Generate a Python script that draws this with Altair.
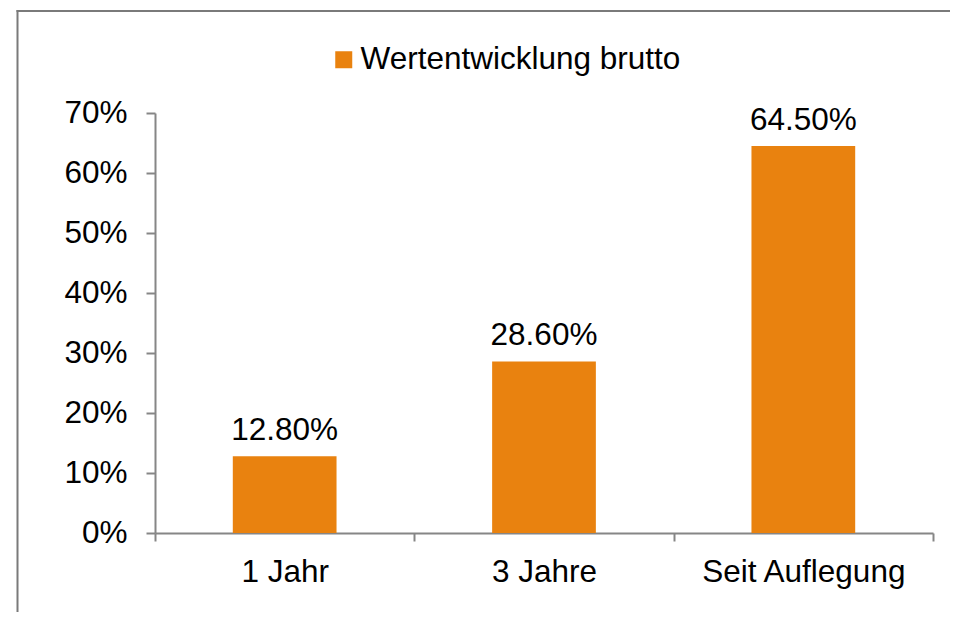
import altair as alt
import pandas as pd

categories = ["1 Jahr", "3 Jahre", "Seit Auflegung"]
values = [0.128, 0.286, 0.645]
series = ["Wertentwicklung brutto"] * 3

df = pd.DataFrame({"Zeitraum": categories, "Wert": values, "Serie": series})

FONT = "Liberation Sans"
FS = 31.5
ORANGE = "#E9820F"
AXIS_GRAY = "#868686"
FRAME_GRAY = "#7a7a7a"

W, H = 778, 420
PAD = {"left": 147, "top": 105, "right": 17, "bottom": 79}

base = alt.Chart(df)

x_enc = alt.X(
    "Zeitraum:N",
    sort=categories,
    scale=alt.Scale(paddingInner=0, paddingOuter=0),
    axis=alt.Axis(
        title=None,
        labelAngle=0,
        labelLimit=0,
        tickBand="extent",
        tickSize=8,
        labelPadding=15,
        labelFontSize=FS,
        labelFont=FONT,
        labelColor="#000000",
        domainColor=AXIS_GRAY,
        tickColor=AXIS_GRAY,
        domainWidth=2,
        tickWidth=2,
    ),
)

y_enc = alt.Y(
    "Wert:Q",
    scale=alt.Scale(domain=[0, 0.7]),
    axis=alt.Axis(
        title=None,
        format=".0%",
        values=[0, 0.1, 0.2, 0.3, 0.4, 0.5, 0.6, 0.7],
        grid=False,
        tickSize=9,
        labelPadding=19,
        labelFontSize=FS,
        labelFont=FONT,
        labelColor="#000000",
        domainColor=AXIS_GRAY,
        tickColor=AXIS_GRAY,
        domainWidth=2,
        tickWidth=2,
    ),
)

bars = base.mark_bar(width=alt.RelativeBandSize(0.4)).encode(
    x=x_enc,
    y=y_enc,
    color=alt.Color(
        "Serie:N",
        scale=alt.Scale(range=[ORANGE]),
        legend=alt.Legend(
            title=None,
            orient="none",
            legendX=173,
            legendY=-69,
            symbolType="square",
            symbolSize=289,
            symbolStrokeWidth=0,
            labelFontSize=FS,
            labelFont=FONT,
            labelColor="#000000",
            labelLimit=0,
            labelOffset=1,
            padding=0,
        ),
    ),
)

labels = base.mark_text(
    baseline="alphabetic", dy=-16, fontSize=FS, font=FONT, color="#000000"
).encode(
    x=alt.X("Zeitraum:N", sort=categories),
    y="Wert:Q",
    text=alt.Text("Wert:Q", format=".2%"),
)

one = pd.DataFrame({"f": [0]})
frame_left = alt.Chart(one).mark_rule(stroke=FRAME_GRAY, strokeWidth=2).encode(
    x=alt.value(-137.5), y=alt.value(-103), y2=alt.value(H + PAD["bottom"])
)
frame_top = alt.Chart(one).mark_rule(stroke=FRAME_GRAY, strokeWidth=2).encode(
    y=alt.value(-102), x=alt.value(-138.5), x2=alt.value(W + PAD["right"])
)

chart = (
    alt.layer(frame_left, frame_top, bars, labels)
    .properties(
        width=W,
        height=H,
        background="white",
        autosize=alt.AutoSizeParams(type="none"),
        padding=PAD,
    )
    .configure_view(strokeWidth=0, stroke="transparent")
)

chart.save("out.html", embed_options={"renderer": "svg", "actions": False})
